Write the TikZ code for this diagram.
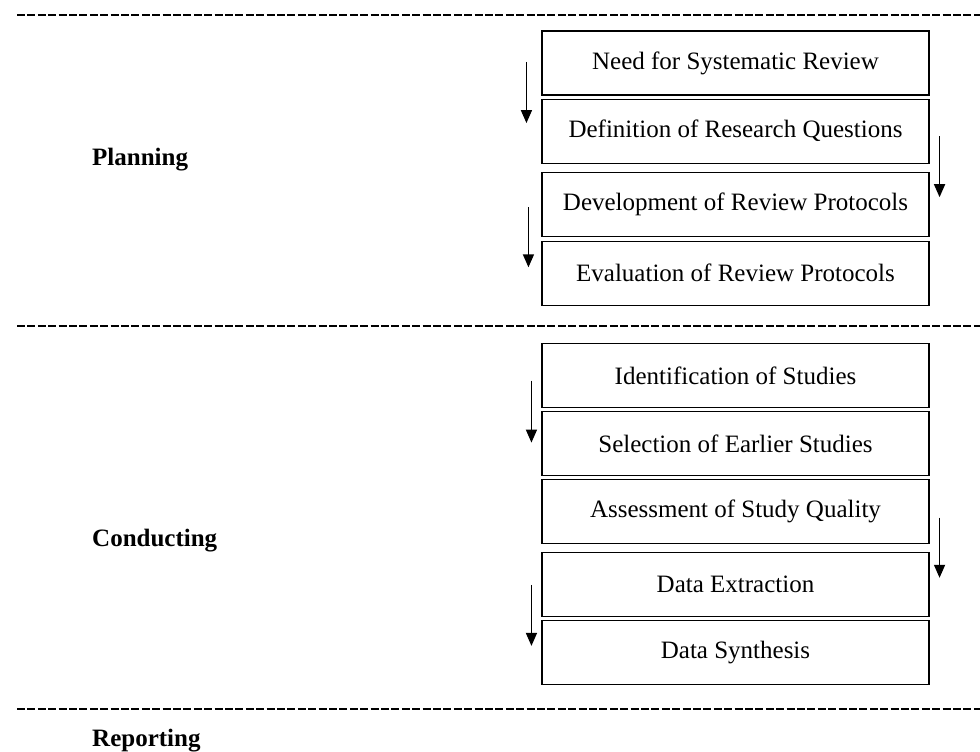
\documentclass[tikz,border=0pt]{standalone}
\usepackage{fontspec}
\setmainfont{Liberation Serif}
\usetikzlibrary{arrows.meta, positioning}

\begin{document}
\begin{tikzpicture}[
			x=1pt, y=1pt,
			font=\fontsize{25}{30}\selectfont,
			% Stage boxes
			stepbox/.style={
				draw, rectangle,
				minimum width=387pt, minimum height=64pt,
				inner sep=0pt, align=center,
				line width=1.1pt
			},
			phase/.style={
				anchor=base west, inner sep=0pt,
				font=\fontsize{25}{30}\selectfont\bfseries
			},
			separator/.style={line width=2.6pt, dash pattern=on 8pt off 2.4pt},
			arrow/.style={-{Triangle[width=11pt,length=13pt]}, line width=1.5pt}
		]
		\useasboundingbox (0,0) rectangle (980,-752);

		% Phase separators
		\coordinate (sep1-l) at (17,-15);
		\coordinate (sep1-r) at (980,-15);
		\coordinate (sep2-l) at (17,-326);
		\coordinate (sep2-r) at (980,-326);
		\coordinate (sep3-l) at (17,-709);
		\coordinate (sep3-r) at (980,-709);
		\draw[separator] (sep1-l) -- (sep1-r);
		\draw[separator] (sep2-l) -- (sep2-r);
		\draw[separator] (sep3-l) -- (sep3-r);

		% Phase labels
		\node[phase] (planning) at (92,-165) {Planning};
		\node[phase] (conducting) at (92,-546) {Conducting};
		\node[phase] (reporting) at (92,-746) {Reporting};

		% Planning stages
		\node[stepbox] (need) at (735.5,-63)
			{Need for Systematic Review};
		\node[stepbox, below=3pt of need] (questions)
			{Definition of Research Questions};
		\node[stepbox, below=8pt of questions] (protdev)
			{Development of Review Protocols};
		\node[stepbox, below=4pt of protdev] (proteval)
			{Evaluation of Review Protocols};

		% Conducting stages
		\node[stepbox] (ident) at (735.5,-375.5)
			{Identification of Studies};
		\node[stepbox, below=3pt of ident] (select)
			{Selection of Earlier Studies};
		\node[stepbox, below=3pt of select] (quality)
			{Assessment of Study Quality};
		\node[stepbox, below=8pt of quality] (extract)
			{Data Extraction};
		\node[stepbox, below=3pt of extract] (synth)
			{Data Synthesis};

		% Arrows
		\draw[arrow] ([xshift=-15pt,yshift=1pt]need.west)
			-- ([xshift=-15pt,yshift=8pt]questions.west);
		\draw[arrow] ([xshift=10pt,yshift=-5pt]questions.east)
			-- ([xshift=10pt,yshift=7pt]protdev.east);
		\draw[arrow] ([xshift=-13pt,yshift=-3pt]protdev.west)
			-- ([xshift=-13pt,yshift=6pt]proteval.west);

		\draw[arrow] ([xshift=-10pt,yshift=-5pt]ident.west)
			-- ([xshift=-10pt,yshift=1pt]select.west);
		\draw[arrow] ([xshift=10pt,yshift=-6pt]quality.east)
			-- ([xshift=10pt,yshift=7pt]extract.east);
		\draw[arrow] ([xshift=-10pt]extract.west)
			-- ([xshift=-10pt,yshift=7pt]synth.west);

		\end{tikzpicture}
\end{document}
